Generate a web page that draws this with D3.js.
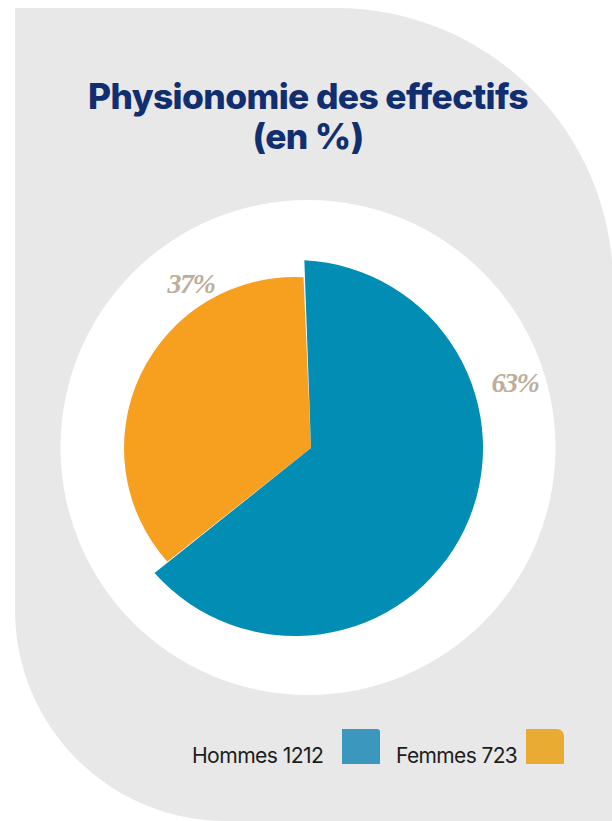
<!DOCTYPE html>
<html><head><meta charset="utf-8">
<script src="https://cdn.jsdelivr.net/npm/d3@7"></script>
<style>html,body{margin:0;padding:0;background:#fff;}svg{display:block;}</style>
</head><body>
<svg id="chart" width="612" height="821"></svg>
<script>
// ---- data ----
const categories = ["Hommes", "Femmes"];
const counts = [1212, 723];
const percentLabels = ["63%", "37%"];
const titleLines = ["Physionomie des effectifs", "(en %)"];

// ---- styles / layout ----
const sliceColors = ["#018db4", "#f79f1f"];
const legendColors = ["#3b97bd", "#eaab33"];
const sliceRadius = [188, 171];
const labelPos = [[515, 392], [191, 293]];
const pieCenter = [295, 448];
const apexOffset = [16, 0];
const W = 612, H = 821;

const svg = d3.select("#chart");

// background shape
const bg = d3.path();
bg.moveTo(15, 8);
bg.lineTo(336, 8);
bg.arc(336, 285, 277, -Math.PI / 2, 0);
bg.lineTo(640, 821);
bg.lineTo(226, 821);
bg.arc(226, 610, 211, Math.PI / 2, Math.PI);
bg.closePath();
svg.append("path").attr("d", bg.toString()).attr("fill", "#e8e8e8");

// white disc
svg.append("circle").attr("cx", 308).attr("cy", 447.5).attr("r", 247.5).attr("fill", "#ffffff");

// title
const title = svg.append("g").attr("fill", "#102e70")
  .attr("font-family", "Inter, 'Noto Sans', sans-serif").attr("font-weight", 800)
  .attr("text-anchor", "middle");
const t1 = title.append("text").attr("x", 308).attr("y", 109).attr("font-size", 35).attr("letter-spacing", -0.6).text(titleLines[0]);
const w1 = t1.node().getComputedTextLength();
const fs = 35 * 440 / w1;
t1.attr("font-size", fs);
title.append("text").attr("x", 308).attr("y", 149).attr("font-size", fs).attr("letter-spacing", -0.6).text(titleLines[1]);

// pie
const data = categories.map((c, i) => ({cat: c, count: counts[i], i}));
const a0 = 2.85 * Math.PI / 180;
const pie = d3.pie().sort(null).value(d => d.count).startAngle(a0).endAngle(a0 + 2 * Math.PI);
const arcs = pie(data);
const g = svg.append("g").attr("transform", `translate(${pieCenter[0]},${pieCenter[1]})`);
function slicePath(d, r) {
  const p = d3.path();
  const s = d.startAngle - Math.PI / 2, e = d.endAngle - Math.PI / 2;
  p.moveTo(apexOffset[0], apexOffset[1]);
  p.lineTo(r * Math.cos(s), r * Math.sin(s));
  p.arc(0, 0, r, s, e);
  p.closePath();
  return p.toString();
}
// draw orange (index 1) underneath blue
[1, 0].forEach(i => {
  g.append("path").attr("d", slicePath(arcs[i], sliceRadius[i])).attr("fill", sliceColors[i]);
});

// percent labels
svg.append("g").selectAll("text").data(arcs).join("text")
  .attr("x", d => labelPos[d.index][0]).attr("y", d => labelPos[d.index][1])
  .attr("text-anchor", "middle")
  .attr("font-family", "'Liberation Serif', 'DejaVu Serif', serif")
  .attr("font-style", "italic").attr("font-weight", 700)
  .attr("font-size", 28).attr("letter-spacing", -1.5)
  .attr("fill", "#bcad9c")
  .text(d => percentLabels[d.index]);

// legend
const legendText = [[192, 763], [396, 763]];
const legendWidth = [131, 121];
const legendSw = [[342, 729], [526, 729]];
const swR = [3, 7];
const lg = svg.append("g");
data.forEach((d, i) => {
  const t = lg.append("text").attr("x", legendText[i][0]).attr("y", legendText[i][1])
    .attr("font-family", "Inter, 'Noto Sans', sans-serif").attr("font-size", 20)
    .attr("letter-spacing", -0.6).attr("fill", "#1d1d1b")
    .text(`${d.cat} ${d.count}`);
  const tw = t.node().getComputedTextLength();
  t.attr("font-size", 20 * legendWidth[i] / tw);
  const [x, y] = legendSw[i], w = 38, h = 35, r = swR[i];
  const p = d3.path();
  p.moveTo(x, y); p.lineTo(x + w - r, y);
  p.arcTo(x + w, y, x + w, y + r, r);
  p.lineTo(x + w, y + h); p.lineTo(x, y + h); p.closePath();
  lg.append("path").attr("d", p.toString()).attr("fill", legendColors[i]);
});
</script>
</body></html>
